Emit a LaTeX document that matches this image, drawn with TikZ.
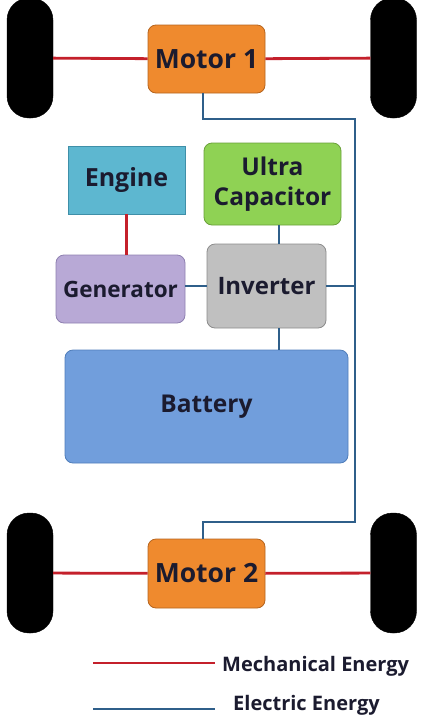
\documentclass[tikz,border=0pt]{standalone}
\usepackage{fontspec}
\setmainfont{Open Sans}
\definecolor{motorF}{HTML}{EF8A2E}\definecolor{motorD}{HTML}{B5641E}
\definecolor{engF}{HTML}{5DB7D0}\definecolor{engD}{HTML}{3F8FA8}
\definecolor{ucF}{HTML}{8FD254}\definecolor{ucD}{HTML}{6AA03A}
\definecolor{genF}{HTML}{B8A9D6}\definecolor{genD}{HTML}{8E80B0}
\definecolor{invF}{HTML}{C0C0C0}\definecolor{invD}{HTML}{8C8C8C}
\definecolor{batF}{HTML}{719EDC}\definecolor{batD}{HTML}{4F7DBA}
\definecolor{mech}{HTML}{C4202B}
\definecolor{elec}{HTML}{2F5F8A}
\definecolor{txt}{HTML}{1B1B2F}
\newcommand{\fs}[1]{\bfseries\fontsize{#1}{#1}\selectfont}
\tikzset{
  box/.style={draw=#1D, fill=#1F, line width=0.8pt, rounded corners=8pt, inner sep=0pt,
    text=txt, align=center},
  wheel/.style={fill=black, draw=black, minimum width=46pt, minimum height=120pt, rounded corners=22pt, inner sep=0pt},
  mline/.style={draw=mech, line width=2.8pt},
  eline/.style={draw=elec, line width=2.8pt},
  legtext/.style={font=\fs{20}, text=txt, anchor=base west, inner sep=0pt}
}
\begin{document}
\begin{tikzpicture}[x=1pt,y=-1pt]
\useasboundingbox (0,0) rectangle (428,716);
% wheels
\node[wheel] (wtl) at (30,58) {};
\node[wheel] (wtr) at (393.5,58) {};
\node[wheel] (wbl) at (30,573) {};
\node[wheel] (wbr) at (393.5,573) {};
% boxes
\node[box=motor, minimum width=117pt, minimum height=68pt, font=\fs{26.5}] (m1) at (206.5,59) {Motor 1};
\node[box=motor, minimum width=117pt, minimum height=69pt, font=\fs{26.5}] (m2) at (206.5,573.5) {Motor 2};
\node[box=eng, rounded corners=0pt, minimum width=117pt, minimum height=68pt, font=\fs{25}] (eng) at (126.5,180) {Engine};
\node[box=uc, minimum width=137pt, minimum height=82pt, font={\bfseries\fontsize{24.5}{30}\selectfont}] (uc) at (272.5,184) {Ultra\\Capacitor};
\node[box=gen, minimum width=129pt, minimum height=68pt, font=\fs{22.5}] (gen) at (120.5,289) {Generator};
\node[box=inv, minimum width=119pt, minimum height=84pt, font=\fs{24}] (inv) at (266.5,286) {Inverter};
\node[box=bat, minimum width=283pt, minimum height=113pt, font=\fs{24.5}] (bat) at (206.5,406.5) {Battery};
% bus coordinates
\coordinate (c1) at (355,119);
\coordinate (c2) at (355,522);
% mechanical links
\draw[mline] (wtl) -- (m1);
\draw[mline] (m1) -- (wtr);
\draw[mline] (wbl) -- (m2);
\draw[mline] (m2) -- (wbr);
\draw[mline] (eng.south) -- (eng.south |- gen.north);
% electric links
\draw[eline] ([xshift=-3.5pt]m1.south) |- (c1) -- (c2) -| ([xshift=-3.5pt]m2.north);
\draw[eline] (inv.east) -- (inv.east -| c1);
\draw[eline] (inv.west) -- (inv.west -| gen.east);
\draw[eline] ([xshift=6.5pt]uc.south) -- ([xshift=6.5pt]uc.south |- inv.north);
\draw[eline] ([xshift=12.5pt]inv.south) -- ([xshift=12.5pt]inv.south |- bat.north);
% legend
\coordinate (r1) at (93,663);
\coordinate (r2) at (215,663);
\coordinate (b1) at (93,709);
\coordinate (b2) at (215,709);
\draw[mline] (r1) -- (r2);
\draw[eline] (b1) -- (b2);
\node[legtext] (lm) at (222,671) {Mechanical Energy};
\node[legtext] (le) at (233,710) {Electric Energy};
\end{tikzpicture}
\end{document}
